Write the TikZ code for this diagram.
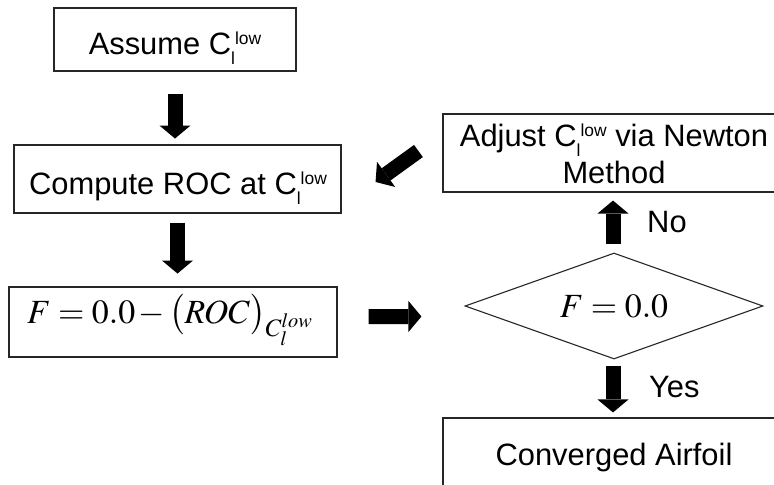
\documentclass[tikz,border=0pt]{standalone}
\usepackage{mathptmx}
\usepackage[no-math]{fontspec}
\setmainfont{Liberation Sans}
\usetikzlibrary{arrows.meta,shapes.geometric}
\newcommand{\Clow}{C\raisebox{-10bp}{\fontsize{17.5}{17}\selectfont l}\raisebox{10bp}{\fontsize{17.5}{17}\selectfont low}}
\tikzset{
  box/.style={draw=black!85, line width=1.1bp, inner sep=0pt, minimum width=#1},
  txt/.style={anchor=base, inner sep=0pt, font=\fontsize{31}{37}\selectfont},
  mth/.style={anchor=base, inner sep=0pt, font=\fontsize{34}{40}\selectfont},
  blockarrow/.style={line width=15bp, -{Triangle[width=31bp,length=13bp,line width=0pt]}},
}
\begin{document}
\begin{tikzpicture}[x=1bp,y=-1bp]
\useasboundingbox (0,0) rectangle (774,485);
\clip (0,0) rectangle (774,485);
% boxes
\node[box=242bp, minimum height=63bp] (b1) at (175,39.5) {};
\node[box=327bp, minimum height=68bp] (b2) at (177.5,179) {};
\node[box=328bp, minimum height=70bp] (b3) at (173,322) {};
\node[box=342bp, minimum height=78bp] (adj) at (614,153) {};
\node[draw=black!85, line width=1.1bp, diamond, inner sep=0pt, minimum width=298bp, minimum height=106bp] (dia) at (614,306) {};
\node[box=342bp, minimum height=112bp] (conv) at (614,474) {};
% texts
\node[txt] (t1) at (175,55) {Assume \Clow};
\node[txt] (t2) at (178,195) {Compute ROC at \Clow};
\node[mth] (t3) at (170,323) {$F = 0.0\,{-}\,\bigl(ROC\bigr)_{C_l^{low}}$};
\node[txt] (t4a) at (614,147) {Adjust \Clow{} via Newton};
\node[txt] (t4b) at (614,184) {Method};
\node[mth] (t5) at (614,317) {$F = 0.0$};
\node[txt] (t6) at (614,465) {Converged Airfoil};
\node[txt, anchor=base west] (no) at (647,233) {No};
\node[txt, anchor=base west] (yes) at (649,397) {Yes};
% arrows
\draw[blockarrow] ([yshift=-22bp]b1.south) -- ++(0,45);
\draw[blockarrow] ([yshift=-9bp]b2.south) -- ++(0,51);
\draw[blockarrow] ([shift={(31,-5.5)}]b3.east) -- ([shift={(-43,10.5)}]dia.west);
\draw[blockarrow] ([shift={(-1,6)}]dia.south) -- ([shift={(-1,-5)}]conv.north);
\draw[blockarrow] ([shift={(-1,-8)}]dia.north) -- ([shift={(-1,8)}]adj.south);
\draw[blockarrow] ([shift={(-24,-2)}]adj.west) -- ([shift={(34,3)}]b2.east);
\end{tikzpicture}
\end{document}
